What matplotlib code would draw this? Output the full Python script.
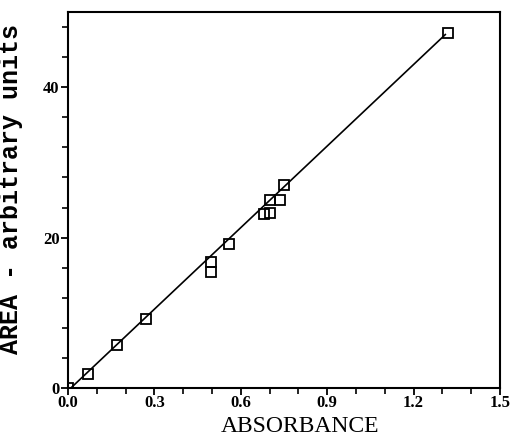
import numpy as np
import matplotlib
matplotlib.use("Agg")
import matplotlib.pyplot as plt
from matplotlib.ticker import MultipleLocator

# measured points: absorbance vs peak area
absorbance = [0.0, 0.07, 0.17, 0.27, 0.495, 0.495, 0.56, 0.68, 0.70, 0.70, 0.735, 0.75, 1.32]
area = [0.0, 1.9, 5.7, 9.2, 16.8, 15.4, 19.1, 23.1, 23.3, 25.0, 25.0, 27.0, 47.2]

# straight calibration line
fit_x = [0.01, 1.31]
fit_y = [0.0, 47.0]

fig = plt.figure(figsize=(5.13, 4.38), dpi=100)
ax = fig.add_axes([0.1326, 0.1142, 0.8421, 0.8584])

ax.plot(fit_x, fit_y, 'k-', lw=1.2)
ax.plot(absorbance, area, 's', ms=7, mfc='none', mec='k', mew=1.3)

ax.set_xlim(0, 1.5)
ax.set_ylim(0, 50)
ax.xaxis.set_major_locator(MultipleLocator(0.3))
ax.xaxis.set_minor_locator(MultipleLocator(0.1))
ax.yaxis.set_major_locator(MultipleLocator(20))
ax.yaxis.set_minor_locator(MultipleLocator(4))
ax.tick_params(which='major', direction='out', length=5, width=1.3)
ax.tick_params(which='minor', direction='out', length=4, width=1.2)
for s in ax.spines.values():
    s.set_linewidth(1.5)

ax.set_xticklabels(["%.1f" % v for v in ax.get_xticks()])
for lab in ax.get_xticklabels() + ax.get_yticklabels():
    lab.set_family('Liberation Serif')
    lab.set_fontweight('bold')
    lab.set_fontsize(12)
ax.tick_params(axis='x', pad=0)
ax.tick_params(axis='y', pad=1)

ax.set_xlabel("ABSORBANCE", family='Liberation Serif', fontsize=17,
              va='baseline')
ax.xaxis.set_label_coords(0.537, -0.118)
ax.set_ylabel("AREA - arbitrary units", family='Liberation Mono',
              fontweight='bold', fontsize=18)
ax.yaxis.set_label_coords(-0.105, 0.53)

fig.savefig("out.png", dpi=100)
